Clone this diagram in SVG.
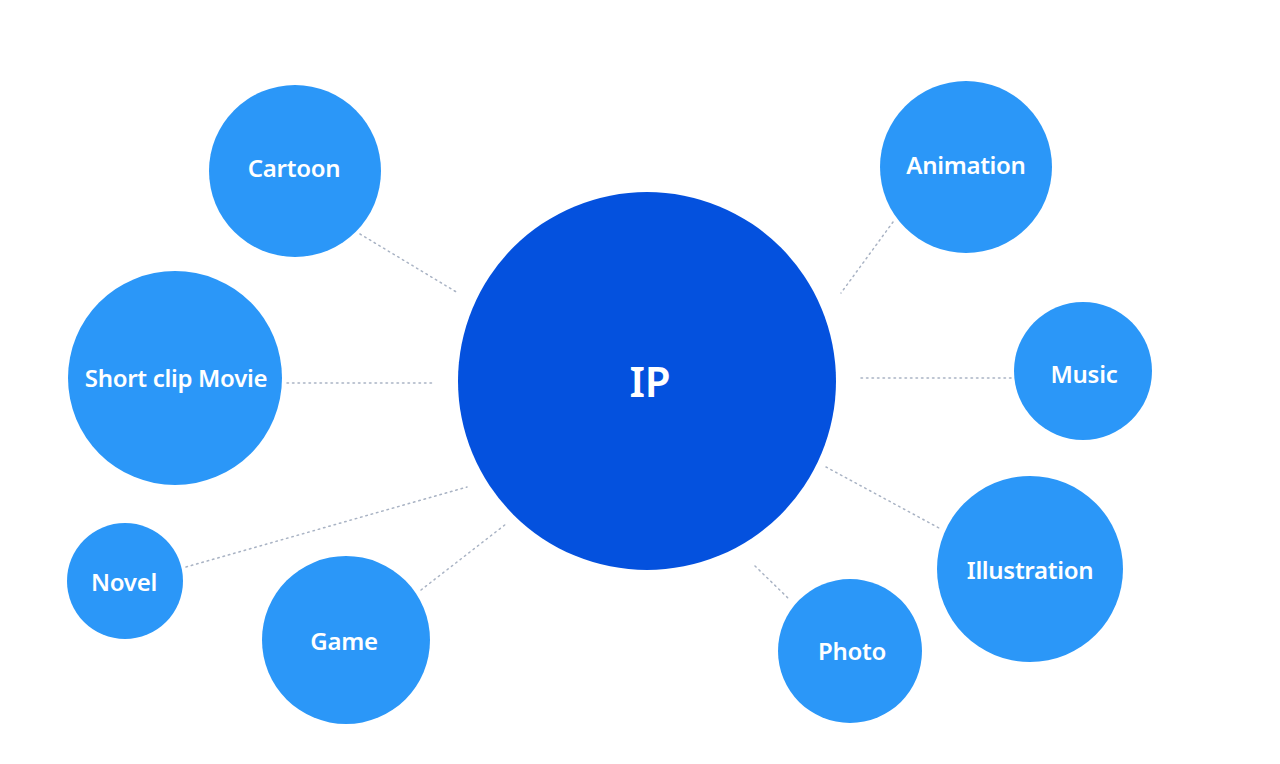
<svg xmlns="http://www.w3.org/2000/svg" width="1280" height="764" viewBox="0 0 1280 764">
<style>
.n{fill:#2B97F8}
.c{fill:#0451DE}
.t{fill:#fff;font-family:"Noto Sans","Liberation Sans",sans-serif;font-weight:600;font-size:24px;text-anchor:middle;dominant-baseline:central;letter-spacing:-0.3px}
.big{font-size:42px;font-weight:600}
.l{stroke:#a9b3c4;stroke-width:1.5;stroke-dasharray:1.5 4;fill:none;stroke-linecap:round}
</style>
<rect width="1280" height="764" fill="#fff"/>
<g id="connectors">
<line class="l" x1="360" y1="234" x2="458" y2="293"/>
<line class="l" x1="287" y1="383" x2="432" y2="383"/>
<line class="l" x1="186" y1="567" x2="467" y2="487"/>
<line class="l" x1="421" y1="590" x2="506" y2="524"/>
<line class="l" x1="893" y1="222" x2="841" y2="293"/>
<line class="l" x1="861" y1="378" x2="1012" y2="378"/>
<line class="l" x1="826" y1="467" x2="939" y2="528"/>
<line class="l" x1="755" y1="566" x2="790" y2="600"/>
</g>
<g id="ip"><circle class="c" cx="647" cy="381" r="189"/><text class="t big" x="650" y="380">IP</text></g>
<g id="cartoon"><circle class="n" cx="295" cy="171" r="86"/><text class="t" x="294" y="167">Cartoon</text></g>
<g id="shortclip"><circle class="n" cx="175" cy="378" r="107"/><text class="t" x="176" y="377">Short clip Movie</text></g>
<g id="novel"><circle class="n" cx="125" cy="581" r="58"/><text class="t" x="124" y="581">Novel</text></g>
<g id="game"><circle class="n" cx="346" cy="640" r="84"/><text class="t" x="344" y="640">Game</text></g>
<g id="animation"><circle class="n" cx="966" cy="167" r="86"/><text class="t" x="966" y="164">Animation</text></g>
<g id="music"><circle class="n" cx="1083" cy="371" r="69"/><text class="t" x="1084" y="373">Music</text></g>
<g id="illustration"><circle class="n" cx="1030" cy="569" r="93"/><text class="t" x="1030" y="569">Illustration</text></g>
<g id="photo"><circle class="n" cx="850" cy="651" r="72"/><text class="t" x="852" y="650">Photo</text></g>
</svg>
